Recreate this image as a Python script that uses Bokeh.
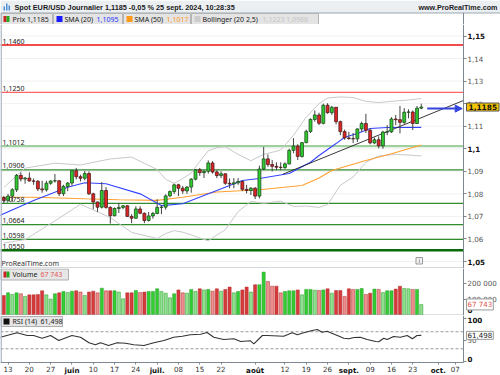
from bokeh.plotting import figure
from bokeh.layouts import column
from bokeh.models import (Range1d, FixedTicker, Label, Arrow, NormalHead, ColumnDataSource,
                          LinearAxis)
from bokeh.core.properties import value
from bokeh.embed import file_html
from bokeh.resources import INLINE

# ---------------- data ----------------
opens = [1.0783, 1.0771, 1.0790, 1.0818, 1.0882, 1.0866, 1.0870, 1.0857, 1.0856, 1.0822,
         1.0818, 1.0847, 1.0857, 1.0858, 1.0801, 1.0833, 1.0848, 1.0903, 1.0876, 1.0869,
         1.0890, 1.0800, 1.0764, 1.0741, 1.0815, 1.0740, 1.0703, 1.0735, 1.0740, 1.0747,
         1.0700, 1.0692, 1.0733, 1.0714, 1.0682, 1.0702, 1.0713, 1.0740, 1.0741, 1.0791,
         1.0810, 1.0840, 1.0825, 1.0813, 1.0830, 1.0865, 1.0907, 1.0894, 1.0900, 1.0937,
         1.0897, 1.0881, 1.0889, 1.0847, 1.0844, 1.0849, 1.0855, 1.0820, 1.0815, 1.0825,
         1.0790, 1.0910, 1.0955, 1.0930, 1.0922, 1.0918, 1.0917, 1.0933, 1.0993, 1.1012,
         1.0966, 1.1027, 1.1077, 1.1130, 1.1150, 1.1113, 1.1193, 1.1160, 1.1184, 1.1120,
         1.1076, 1.1048, 1.1045, 1.1044, 1.1088, 1.1112, 1.1082, 1.1026, 1.1040, 1.1013,
         1.1074, 1.1075, 1.1132, 1.1129, 1.1117, 1.1162, 1.1163, 1.1112, 1.1180]
highs = [1.0791, 1.0800, 1.0825, 1.0888, 1.0895, 1.0875, 1.0895, 1.0868, 1.0861, 1.0858,
         1.0858, 1.0860, 1.0888, 1.0860, 1.0840, 1.0852, 1.0905, 1.0915, 1.0885, 1.0902,
         1.0900, 1.0805, 1.0765, 1.0852, 1.0830, 1.0745, 1.0740, 1.0760, 1.0750, 1.0750,
         1.0710, 1.0745, 1.0745, 1.0717, 1.0720, 1.0720, 1.0776, 1.0750, 1.0798, 1.0815,
         1.0845, 1.0845, 1.0835, 1.0835, 1.0870, 1.0910, 1.0915, 1.0905, 1.0948, 1.0945,
         1.0905, 1.0900, 1.0890, 1.0868, 1.0870, 1.0870, 1.0860, 1.0840, 1.0830, 1.0830,
         1.0925, 1.1008, 1.0975, 1.0950, 1.0940, 1.0940, 1.0940, 1.1000, 1.1047, 1.1020,
         1.1030, 1.1085, 1.1135, 1.1170, 1.1160, 1.1200, 1.1202, 1.1190, 1.1185, 1.1125,
         1.1085, 1.1075, 1.1070, 1.1090, 1.1120, 1.1155, 1.1090, 1.1050, 1.1055, 1.1080,
         1.1105, 1.1140, 1.1150, 1.1190, 1.1180, 1.1175, 1.1170, 1.1190, 1.1200]
lows = [1.0757, 1.0765, 1.0765, 1.0808, 1.0855, 1.0845, 1.0855, 1.0840, 1.0812, 1.0805,
        1.0810, 1.0840, 1.0850, 1.0790, 1.0790, 1.0812, 1.0836, 1.0864, 1.0855, 1.0860,
        1.0795, 1.0732, 1.0720, 1.0735, 1.0734, 1.0668, 1.0700, 1.0715, 1.0732, 1.0698,
        1.0670, 1.0690, 1.0710, 1.0670, 1.0677, 1.0690, 1.0710, 1.0710, 1.0730, 1.0785,
        1.0800, 1.0790, 1.0800, 1.0800, 1.0805, 1.0860, 1.0880, 1.0870, 1.0890, 1.0890,
        1.0870, 1.0870, 1.0840, 1.0825, 1.0825, 1.0840, 1.0812, 1.0802, 1.0795, 1.0777,
        1.0780, 1.0905, 1.0920, 1.0900, 1.0905, 1.0905, 1.0910, 1.0930, 1.0980, 1.0950,
        1.0960, 1.1025, 1.1070, 1.1120, 1.1105, 1.1108, 1.1155, 1.1150, 1.1108, 1.1060,
        1.1040, 1.1040, 1.1025, 1.1030, 1.1075, 1.1070, 1.1020, 1.1020, 1.1002, 1.1000,
        1.1060, 1.1070, 1.1105, 1.1068, 1.1110, 1.1135, 1.1083, 1.1110, 1.1175]
closes = [1.0771, 1.0790, 1.0818, 1.0882, 1.0866, 1.0870, 1.0857, 1.0856, 1.0822, 1.0818,
          1.0847, 1.0857, 1.0858, 1.0801, 1.0833, 1.0848, 1.0903, 1.0876, 1.0869, 1.0890,
          1.0800, 1.0764, 1.0741, 1.0815, 1.0740, 1.0703, 1.0735, 1.0740, 1.0747, 1.0700,
          1.0692, 1.0733, 1.0714, 1.0682, 1.0702, 1.0713, 1.0740, 1.0741, 1.0791, 1.0810,
          1.0840, 1.0825, 1.0813, 1.0830, 1.0865, 1.0907, 1.0894, 1.0900, 1.0937, 1.0897,
          1.0881, 1.0889, 1.0847, 1.0844, 1.0849, 1.0855, 1.0820, 1.0815, 1.0825, 1.0790,
          1.0910, 1.0955, 1.0930, 1.0922, 1.0918, 1.0917, 1.0933, 1.0993, 1.1012, 1.0966,
          1.1027, 1.1077, 1.1130, 1.1150, 1.1113, 1.1193, 1.1160, 1.1184, 1.1120, 1.1076,
          1.1048, 1.1045, 1.1044, 1.1088, 1.1112, 1.1082, 1.1026, 1.1040, 1.1013, 1.1074,
          1.1075, 1.1132, 1.1129, 1.1117, 1.1162, 1.1163, 1.1112, 1.1180, 1.1185]
volumes = [125000, 142000, 132000, 142000, 136000, 119000, 129000, 129000, 132000, 155000,
           129000, 102000, 136000, 142000, 151000, 144000, 153000, 155000, 147000, 125000,
           147000, 153000, 142000, 172000, 155000, 155000, 155000, 147000, 104000, 142000,
           142000, 157000, 144000, 147000, 151000, 151000, 168000, 151000, 140000, 110000,
           136000, 161000, 142000, 140000, 164000, 151000, 168000, 161000, 164000, 153000,
           168000, 153000, 164000, 179000, 142000, 151000, 161000, 179000, 147000, 194000,
           194000, 275000, 215000, 185000, 185000, 142000, 151000, 155000, 155000, 161000,
           129000, 164000, 164000, 159000, 157000, 161000, 168000, 140000, 157000, 157000,
           119000, 168000, 164000, 164000, 170000, 132000, 140000, 166000, 164000, 144000,
           155000, 155000, 166000, 185000, 170000, 168000, 164000, 164000, 67743]

sma20_k = [-1, 7, 15, 19, 24, 32, 37, 42, 50, 56, 60, 67, 72, 74, 78, 80, 83, 86, 90, 98]
sma20_v = [1.0704, 1.0771, 1.0829, 1.0849, 1.0845, 1.0800, 1.0748, 1.0756, 1.0815, 1.0859,
           1.0868, 1.0890, 1.0940, 1.0970, 1.1023, 1.1051, 1.1068, 1.1090, 1.1094, 1.1095]
sma50_k = [-1, 7, 19, 27, 36, 42, 50, 60, 70, 74, 77, 85, 91, 98]
sma50_v = [1.0785, 1.0785, 1.0778, 1.0774, 1.0771, 1.0785, 1.0808, 1.0818, 1.0837, 1.0870,
           1.0904, 1.0948, 1.0978, 1.1017]
boll_k = [0, 5, 12, 18, 25, 30, 36, 38, 40, 42, 44, 46, 48, 50, 52, 55, 58, 61, 65, 68,
          71, 74, 76, 79, 82, 85, 88, 92, 95, 98]
boll_up = [1.0828, 1.0914, 1.0936, 1.0928, 1.0955, 1.0963, 1.0908, 1.0864, 1.0847, 1.0868,
           1.0893, 1.0944, 1.0991, 1.1005, 1.1009, 1.0975, 1.0947, 1.0975, 1.0994, 1.1060,
           1.1140, 1.1200, 1.1225, 1.1230, 1.1227, 1.1210, 1.1205, 1.1212, 1.1216, 1.1223]
boll_lo = [1.0582, 1.0597, 1.0680, 1.0754, 1.0695, 1.0629, 1.0602, 1.0624, 1.0637, 1.0630,
           1.0618, 1.0604, 1.0592, 1.0617, 1.0641, 1.0721, 1.0767, 1.0758, 1.0768, 1.0744,
           1.0746, 1.0740, 1.0752, 1.0838, 1.0875, 1.0940, 1.0968, 1.0975, 1.0972, 1.0968]
rsi_k = [-0.8, 3.1, 5.5, 7.0, 9.0, 11.0, 12.9, 16.0, 18.0, 20.0, 21.5, 22.7, 24.6, 26.6,
         28.6, 30.5, 32.9, 35.2, 37.6, 39.9, 41.9, 43.8, 46.2, 47.7, 49.3, 51.6, 54.0, 55.6,
         57.9, 58.7, 60.7, 61.8, 65.7, 67.7, 68.9, 70.4, 72.4, 73.6, 74.7, 75.9, 76.7, 78.3,
         79.8, 81.0, 82.2, 83.7, 85.3, 87.3, 88.0, 89.2, 90.0, 91.5, 93.1, 94.7, 95.9, 97.0, 98.0]
rsi_v = [57.2, 67.5, 61.2, 61.2, 54.8, 61.2, 49.4, 61.2, 57.2, 44.0, 39.3, 44.0, 37.6, 44.0,
         43.1, 39.3, 37.6, 44.0, 49.4, 57.2, 59.5, 62.8, 64.2, 68.2, 57.2, 51.8, 53.4, 47.1,
         48.7, 41.6, 61.2, 61.2, 59.5, 67.5, 62.8, 67.5, 72.9, 75.3, 68.9, 71.3, 67.5, 61.2,
         54.8, 53.4, 56.5, 57.2, 51.8, 47.1, 46.4, 54.8, 51.8, 58.8, 57.2, 61.2, 53.4, 61.2, 61.498]

levels = [1.1460, 1.1250, 1.1012, 1.0906, 1.0758, 1.0664, 1.0598, 1.0550]
level_labels = ["1,1460", "1,1250", "1,1012", "1,0906", "1,0758", "1,0664", "1,0598", "1,0550"]
trend_k = [65.5, 107.9]
trend_p = [1.0887, 1.1214]
arrow_k = [99.4, 107.6]
arrow_p = 1.1178

price_ticks = [1.05, 1.06, 1.07, 1.08, 1.09, 1.10, 1.11, 1.12, 1.13, 1.14, 1.15]
price_tick_labels = ["1,05", "1,06", "1,07", "1,08", "1,09", "1,1", "1,11", "1,12", "1,13", "1,14", "1,15"]
price_bold = [1.05, 1.10, 1.15]
vol_ticks = [0, 100000, 200000]
vol_tick_labels = ["0", "100 000", "200 000"]
rsi_ticks = [0, 50, 100]
rsi_tick_labels = ["0", "50", "100"]
rsi_bands = [70, 30]
date_ticks = [1, 6, 11, 16, 21, 26, 31, 36, 41, 46, 51, 59, 66, 71, 76, 81, 86, 91, 96, 102, 106]
date_labels = ["13", "20", "27", "juin", "10", "17", "24", "juil.", "08", "15", "22", "août",
               "12", "19", "26", "sept.", "09", "16", "23", "oct.", "07"]
months = ["juin", "juil.", "août", "sept.", "oct."]

last_close = "1,1185"
sma20_last, sma50_last = "1,1095", "1,1017"
boll_last = "1,1223 1,0968"
vol_last, rsi_last = "67 743", "61,498"
title = "Spot EUR/USD Journalier 1,1185 -0,05 % 25 sept. 2024, 10:28:35"

# ---------------- layout constants ----------------
W = 500
H_HDR, H_PRICE, H_VOL, H_RSI = 24, 244, 47, 60
X0, X1 = -0.775, 107.91            # day index at the left edge / at the price axis
XF = X0 + 500.0 / 463.0 * (X1 - X0)  # day index at the right edge of the page
AXF = "DejaVu Sans"
LF = "Noto Sans"
TF = "Liberation Sans"
AXFS = "7.1px"
LFS = "7px"

xr = Range1d(X0, XF)


def kx(px):
    return X0 + px / 463.0 * (X1 - X0)


def py(ypx):
    return 1.05 + (261.0 - ypx) / 2255.0


def mkfig(h, yr, ticks, labels, bold):
    f = figure(width=W, height=h, x_range=xr, y_range=yr, output_backend="svg",
               toolbar_location=None, x_axis_location=None, y_axis_location=None,
               min_border=0)
    f.outline_line_color = None
    f.background_fill_color = "white"
    f.border_fill_color = "white"
    f.grid.visible = False
    ax = LinearAxis(fixed_location=X1, ticker=FixedTicker(ticks=ticks),
                    major_label_overrides={t: ("" if t in bold else s) for t, s in zip(ticks, labels)},
                    axis_line_color="#7f8790", major_tick_line_color="#7f8790",
                    major_tick_out=3, major_tick_in=0, minor_tick_line_color=None,
                    major_label_standoff=1, major_label_text_font=AXF,
                    major_label_text_font_size=AXFS, major_label_text_color="#555555")
    f.add_layout(ax, "right")
    return f


def lab(f, x, y, text, **kw):
    opts = dict(text_font=LF, text_font_size=LFS, text_color="#222222")
    opts.update(kw)
    f.add_layout(Label(x=x, y=y, text=text, **opts))


def bold_tick(f, y, text, yoff=0):
    lab(f, X1, y, text, x_offset=4, y_offset=yoff, text_baseline="middle",
        text_font=AXF, text_font_size=AXFS, text_font_style="bold", text_color="#111111")


# ---------------- header ----------------
hdr = figure(width=W, height=H_HDR, x_range=Range1d(0, 500), y_range=Range1d(24, 0),
             output_backend="svg", toolbar_location=None, x_axis_location=None,
             y_axis_location=None, min_border=0)
hdr.outline_line_color = None
hdr.grid.visible = False
hdr.quad(left=0, right=500, top=0, bottom=12.5, fill_color="#eceff2", line_color=None)
hdr.segment(x0=0, y0=12.5, x1=500, y1=12.5, line_color="#9aa7b3", line_width=1)
hdr.quad(left=[3, 5.5, 8], right=[4.5, 7, 9.5], top=[6, 3, 5], bottom=[10, 10, 10],
         fill_color="#4a90d9", line_color=None)
hdr.text(x=[14], y=[6.6], text=[title], text_font=value(TF), text_font_style="bold",
         text_font_size="7.3px", text_baseline="middle", text_color="#1a1a1a")
hdr.text(x=[497], y=[6.6], text=["www.ProRealTime.com"], text_font=value(TF),
         text_font_style="bold", text_font_size="7.2px", text_baseline="middle",
         text_align="right", text_color="#222222")
hdr.quad(left=[0.5, 53, 123, 191], right=[52, 122, 190, 318], top=[13] * 4, bottom=[24] * 4,
         fill_color="#e4e4e4", line_color="#b5b5b5", line_width=1)
hdr.quad(left=[3, 6], right=[6, 9], top=[15.5, 15.5], bottom=[21.5, 21.5],
         fill_color=["#cc2222", "#22aa22"], line_color=None)
hdr.quad(left=[56, 126, 194], right=[62, 132, 200], top=[15.5] * 3, bottom=[21.5] * 3,
         fill_color=["#1a1aff", "#ff9a1a", "#cccccc"], line_color=None)
hdr.text(x=[12, 64, 134, 202], y=[18.7] * 4,
         text=["Prix " + last_close, "SMA (20)", "SMA (50)", "Bollinger (20 2,5)"],
         text_font=value(LF), text_font_size=LFS, text_baseline="middle", text_color="#222222")
hdr.text(x=[96, 166, 262], y=[18.7] * 3, text=[sma20_last, sma50_last, boll_last],
         text_font=value(LF), text_font_size=LFS, text_baseline="middle",
         text_color=["#2233ff", "#ff9922", "#c4c4c4"])
hdr.segment(x0=463, y0=12.5, x1=463, y1=24, line_color="#7f8790", line_width=1)
hdr.segment(x0=0.6, y0=12.5, x1=0.6, y1=24, line_color="#a9b6c2", line_width=1.5)

# ---------------- price panel ----------------
PY0, PY1 = 1.04690, 1.1551
p = mkfig(H_PRICE, Range1d(PY0, PY1), price_ticks, price_tick_labels, price_bold)
p.segment(x0=X0, x1=X1, y0=price_ticks, y1=price_ticks, line_color="#f1f1f1", line_width=1)
for t, s in zip(price_ticks, price_tick_labels):
    if t in price_bold:
        bold_tick(p, t, s)

level_colors = ["#ee1111", "#ff6262", "#9fcf9f", "#2e8b2e", "#2e8b2e", "#2e8b2e", "#2e8b2e", "#0b6b0b"]
level_widths = [1.6, 1.4, 2.2, 1.3, 1.3, 1.3, 1.3, 2.6]
p.segment(x0=X0, x1=X1, y0=levels, y1=levels, line_color=level_colors, line_width=level_widths)
for lv, s in zip(levels, level_labels):
    lab(p, X0, lv, s, x_offset=2, y_offset=1.5, text_baseline="bottom", text_color="#222222")

p.line(boll_k, boll_up, line_color="#c9c9c9", line_width=1)
p.line(boll_k, boll_lo, line_color="#c9c9c9", line_width=1)
p.line(sma50_k, sma50_v, line_color="#ffa033", line_width=1.1)
p.line(sma20_k, sma20_v, line_color="#3344ff", line_width=1.1)
p.line(trend_k, trend_p, line_color="#222222", line_width=0.9)

ks = list(range(len(closes)))
up = [c >= o for o, c in zip(opens, closes)]
vol_up = [True] + [volumes[i] >= volumes[i - 1] for i in range(1, len(volumes))]
src = ColumnDataSource(dict(
    k=ks, o=opens, h=highs, l=lows, c=closes,
    top=[max(o, c) for o, c in zip(opens, closes)],
    bot=[min(o, c) for o, c in zip(opens, closes)],
    fill=["#2ecc2e" if u else "#e02424" for u in up],
    edge=["#1d4a1d" if u else "#4a1d1d" for u in up],
    vol=volumes,
    vfill=[("#33cc33" if vu else "#8fe08f") if u else ("#d63a3a" if vu else "#ee8f8f")
           for u, vu in zip(up, vol_up)],
    vedge=["#2a9a2a" if u else "#b03030" for u in up],
))
p.segment(x0="k", y0="h", x1="k", y1="l", source=src, line_color="#444444", line_width=1)
p.vbar(x="k", width=0.68, top="top", bottom="bot", fill_color="fill", line_color="edge",
       line_width=0.8, source=src)

p.add_layout(Arrow(end=NormalHead(size=7, fill_color="#3344dd", line_color="#3344dd"),
                   x_start=arrow_k[0], y_start=arrow_p, x_end=arrow_k[1], y_end=arrow_p,
                   line_color="#3344dd", line_width=2))
lab(p, X1, closes[-1], last_close, x_offset=3, text_baseline="middle", text_font=AXF,
    text_font_size="7.4px", text_font_style="bold", text_color="#111111",
    background_fill_color="#f5c400", border_line_color="#555555", padding=(2, 1))
lab(p, X0, py(262.5), "ProRealTime.com", x_offset=1, text_baseline="middle", text_color="#333333")
# small info icon
p.quad(left=kx(415.5), right=kx(422), top=py(257), bottom=py(263.5), fill_color="#f4f4f4",
       line_color="#999999", line_width=1)
lab(p, kx(418.75), py(260.3), "i", text_align="center", text_baseline="middle",
    text_font=AXF, text_font_size="6px", text_color="#555555")
p.segment(x0=X0, x1=X1, y0=py(267.5), y1=py(267.5), line_color="#a9b3bd", line_width=1)
p.segment(x0=kx(0.6), x1=kx(0.6), y0=PY0, y1=PY1, line_color="#a9b6c2", line_width=1.5)

# ---------------- volume panel ----------------
VY0, VY1 = -3200, 298000


def vy(ypx):
    return VY1 - (ypx - 268) / 47.0 * (VY1 - VY0)


v = mkfig(H_VOL, Range1d(VY0, VY1), vol_ticks, vol_tick_labels, [0])
v.vbar(x="k", width=0.74, top="vol", bottom=0, fill_color="vfill", line_color="vedge",
       line_width=0.5, source=src)
v.quad(left=kx(0.5), right=kx(68), top=vy(268.5), bottom=vy(279.5), fill_color="#e6e6e6",
       line_color="#b0b0b0")
v.quad(left=[kx(3), kx(6)], right=[kx(6), kx(9)], top=[vy(271)] * 2, bottom=[vy(277)] * 2,
       fill_color=["#cc2222", "#22aa22"], line_color=None)
lab(v, kx(12), vy(274), "Volume", text_baseline="middle")
lab(v, kx(40), vy(274), vol_last, text_baseline="middle", text_color="#e05555")
bold_tick(v, 0, "0", yoff=5)
lab(v, X1, volumes[-1], vol_last, x_offset=3, text_baseline="middle", text_font=AXF,
    text_font_size=AXFS, text_color="#e05555", background_fill_color="white",
    border_line_color="#9a9a9a", padding=1)
v.segment(x0=X0, x1=X1, y0=vy(314.6), y1=vy(314.6), line_color="#a9b3bd", line_width=1)
v.segment(x0=kx(0.6), x1=kx(0.6), y0=VY0, y1=VY1, line_color="#a9b6c2", line_width=1.5)

# ---------------- RSI panel (with date axis strip) ----------------
RY0, RY1 = -32.9, 108.2
RAX = -2.35  # RSI value at the date-axis line


def ry(ypx):
    return RY1 - (ypx - 315) / 60.0 * (RY1 - RY0)


r = mkfig(H_RSI, Range1d(RY0, RY1), rsi_ticks, rsi_tick_labels, [0, 100])
r.yaxis[0].bounds = (RAX, RY1)
r.segment(x0=X0, x1=X1, y0=rsi_bands, y1=rsi_bands, line_color="#9a9a9a", line_width=1,
          line_dash="3 2")
r.line(rsi_k, rsi_v, line_color="#333333", line_width=1.1)
r.quad(left=kx(0.5), right=kx(62), top=ry(316), bottom=ry(326), fill_color="#e6e6e6",
       line_color="#b0b0b0")
r.quad(left=kx(3), right=kx(9), top=ry(318), bottom=ry(324), fill_color="#111111", line_color=None)
lab(r, kx(12), ry(321), "RSI (14)", text_baseline="middle")
lab(r, kx(40), ry(321), rsi_last, text_baseline="middle", text_color="#222222")
bold_tick(r, 100, "100", yoff=-1.5)
bold_tick(r, 0, "0", yoff=3)
lab(r, X1, rsi_v[-1], rsi_last, x_offset=3, text_baseline="middle", text_font=AXF,
    text_font_size=AXFS, text_color="#222222", background_fill_color="white",
    border_line_color="#9a9a9a", padding=1)
r.segment(x0=kx(0.6), x1=kx(0.6), y0=RAX, y1=RY1, line_color="#a9b6c2", line_width=1.5)

xa = LinearAxis(fixed_location=RAX, ticker=FixedTicker(ticks=date_ticks),
                major_label_overrides={t: ("" if s in months else s)
                                       for t, s in zip(date_ticks, date_labels)},
                axis_line_color="#7f8790", major_tick_line_color="#7f8790",
                major_tick_out=2, major_tick_in=0, minor_tick_line_color=None,
                major_label_standoff=1, major_label_text_font=AXF,
                major_label_text_font_size=AXFS, major_label_text_color="#333333",
                bounds=(X0, X1))
r.add_layout(xa, "below")
for t, s in zip(date_ticks, date_labels):
    if s in months:
        lab(r, t, RAX, s, y_offset=-3, text_baseline="top", text_align="center",
            text_font=AXF, text_font_size=AXFS, text_font_style="bold", text_color="#111111")

layout = column(hdr, p, v, r, spacing=0)
open("out.html", "w").write(file_html(layout, INLINE))
